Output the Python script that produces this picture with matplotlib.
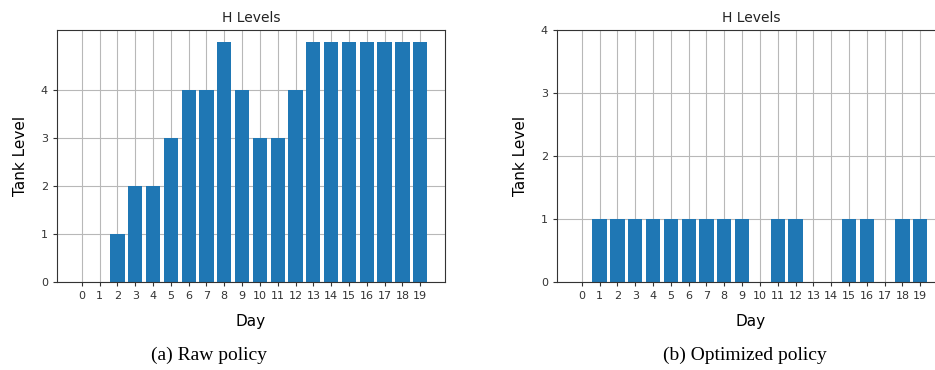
import numpy as np
import matplotlib
matplotlib.use("Agg")
import matplotlib.pyplot as plt

# data
days = list(range(20))
raw_levels = [0, 0, 1, 2, 2, 3, 4, 4, 5, 4, 3, 3, 4, 5, 5, 5, 5, 5, 5, 5]
opt_levels = [0, 1, 1, 1, 1, 1, 1, 1, 1, 1, 0, 1, 1, 0, 0, 1, 1, 0, 1, 1]
y_ticks = [0, 1, 2, 3, 4]
captions = ["(a) Raw policy", "(b) Optimized policy"]

W, H = 935, 370
fig = plt.figure(figsize=(W / 100, H / 100), dpi=100)


def make_axes(left, levels):
    ax = fig.add_axes([left / W, 1 - 282 / H, 388 / W, 252 / H])
    ax.bar(days, levels, width=0.8, color="#1f77b4", zorder=2)
    ax.set_xticks(days)
    ax.set_yticks(y_ticks)
    ax.tick_params(labelsize=8, colors="#333333", length=3)
    ax.set_title("H Levels", fontsize=10, color="#222222", pad=6)
    ax.set_xlabel("Day", fontsize=11, labelpad=9)
    ax.set_ylabel("Tank Level", fontsize=11, labelpad=9)
    ax.grid(True, color="#b8b8b8", linewidth=0.8, zorder=0)
    ax.set_axisbelow(True)
    for s in ax.spines.values():
        s.set_color("#333333")
    return ax


ax1 = make_axes(57, raw_levels)
ax2 = make_axes(557, opt_levels)

fig.text(209 / W, 1 - 355 / H, captions[0], ha="center", va="center",
         family="Liberation Serif", fontsize=14)
fig.text(745 / W, 1 - 355 / H, captions[1], ha="center", va="center",
         family="Liberation Serif", fontsize=14)

fig.savefig("out.png", dpi=100)
